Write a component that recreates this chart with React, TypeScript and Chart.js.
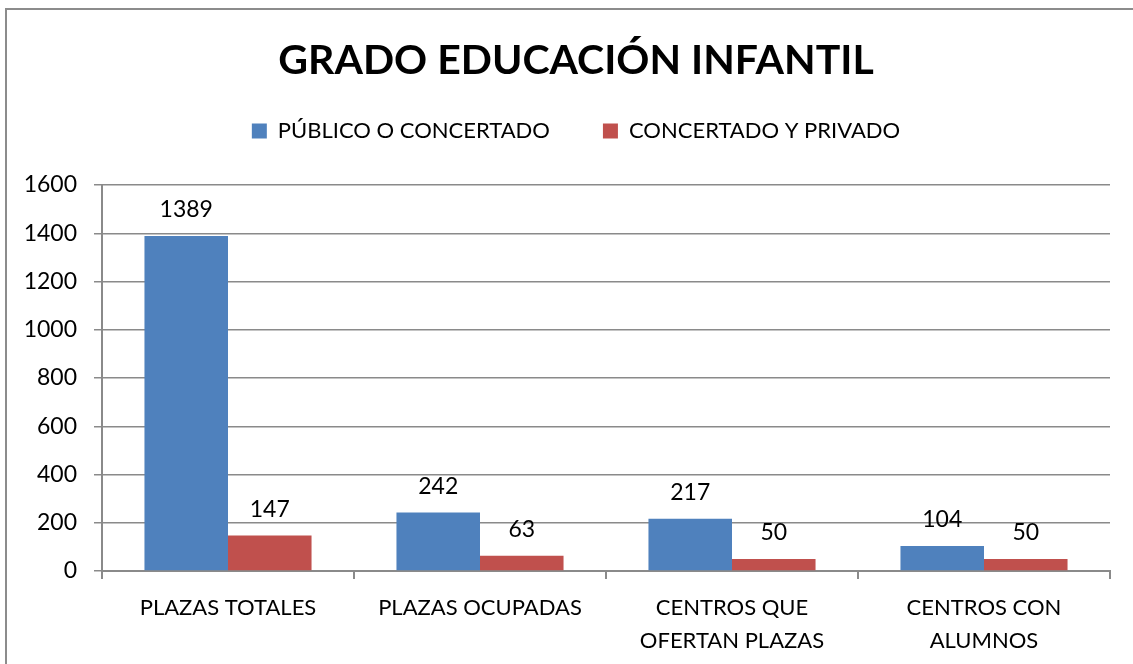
import React, { useEffect, useRef } from 'react';
import { Chart, registerables } from 'chart.js';

Chart.register(...registerables);

const titleText = 'GRADO EDUCACIÓN INFANTIL';
const categories: string[][] = [
  ['PLAZAS TOTALES'],
  ['PLAZAS OCUPADAS'],
  ['CENTROS QUE', 'OFERTAN PLAZAS'],
  ['CENTROS CON', 'ALUMNOS'],
];
const seriesNames = ['PÚBLICO O CONCERTADO', 'CONCERTADO Y PRIVADO'];
const publicoValues = [1389, 242, 217, 104];
const privadoValues = [147, 63, 50, 50];
const yMin = 0;
const yMax = 1600;
const yStep = 200;

const FONT = "Lato, 'Open Sans', sans-serif";
const GRID = '#8a8a8a';

const framePlugin = {
  id: 'frame',
  beforeDraw(chart: any) {
    const { ctx, width, height } = chart;
    ctx.save();
    ctx.fillStyle = '#ffffff';
    ctx.fillRect(0, 0, width, height);
    ctx.strokeStyle = '#8c8c8c';
    ctx.lineWidth = 2;
    ctx.strokeRect(6, 9, width + 20, height + 20);
    ctx.restore();
  },
};

// Shift the title and legend so that they are centred like the original picture
const headerShiftPlugin = {
  id: 'headerShift',
  afterLayout(chart: any) {
    const shift = 21;
    [chart.titleBlock, chart.legend].forEach((b: any) => {
      if (b) {
        b.left += shift;
        b.right += shift;
      }
    });
  },
};

const valueLabelPlugin = {
  id: 'valueLabels',
  afterDatasetsDraw(chart: any) {
    const { ctx } = chart;
    ctx.save();
    ctx.font = `23px ${FONT}`;
    ctx.fillStyle = '#000000';
    ctx.textAlign = 'center';
    ctx.textBaseline = 'middle';
    chart.data.datasets.forEach((ds: any, i: number) => {
      const meta = chart.getDatasetMeta(i);
      meta.data.forEach((el: any, j: number) => {
        const { x, y } = el.getProps(['x', 'y'], true);
        ctx.fillText(String(ds.data[j]), x, y - 26);
      });
    });
    ctx.restore();
  },
};

export default function App() {
  const ref = useRef<HTMLCanvasElement | null>(null);

  useEffect(() => {
    if (!ref.current) return;
    const chart = new Chart(ref.current, {
      type: 'bar',
      data: {
        labels: categories,
        datasets: [
          {
            label: seriesNames[0],
            data: publicoValues,
            backgroundColor: '#4F81BD',
            borderWidth: 0,
          },
          {
            label: seriesNames[1],
            data: privadoValues,
            backgroundColor: '#C0504D',
            borderWidth: 0,
          },
        ],
      },
      options: {
        responsive: false,
        animation: false,
        datasets: {
          bar: { categoryPercentage: 0.663, barPercentage: 1 },
        },
        layout: { padding: { left: 0, right: 23, top: 0, bottom: 0 } },
        plugins: {
          title: {
            display: true,
            text: titleText,
            color: '#000000',
            font: { family: FONT, size: 41, weight: 'bold', lineHeight: 0.2 },
            padding: { top: 56.4, bottom: 2.4 },
          },
          legend: {
            display: true,
            position: 'top',
            labels: {
              color: '#000000',
              font: { family: FONT, size: 22 },
              boxWidth: 15,
              boxHeight: 15,
              padding: 53,
            },
          },
          subtitle: {
            display: true,
            weight: 500,
            text: '',
            font: { size: 1, lineHeight: 1 },
            padding: { top: 0, bottom: 32 },
          },
          tooltip: { enabled: false },
        },
        scales: {
          x: {
            offset: true,
            grid: {
              display: true,
              offset: true,
              drawOnChartArea: false,
              drawTicks: true,
              tickLength: 8,
              color: GRID,
              lineWidth: 2,
            },
            border: { display: true, color: GRID, width: 2 },
            ticks: {
              color: '#000000',
              font: { family: FONT, size: 22, lineHeight: 1.5 },
              padding: 12,
              maxRotation: 0,
              autoSkip: false,
            },
            afterFit(scale: any) {
              scale.height = 93;
            },
          },
          y: {
            min: yMin,
            max: yMax,
            grid: {
              color: GRID,
              lineWidth: 1.5,
              drawTicks: true,
              tickLength: 8,
            },
            border: { display: true, color: GRID, width: 2 },
            ticks: {
              stepSize: yStep,
              color: '#000000',
              font: { family: FONT, size: 23 },
              padding: 17,
              callback: (value: any) => String(value),
            },
            afterFit(scale: any) {
              scale.width = 102;
            },
          },
        },
      },
      plugins: [framePlugin, headerShiftPlugin, valueLabelPlugin],
    });
    return () => chart.destroy();
  }, []);

  return (
    <div style={{ position: 'absolute', left: 0, top: 0, width: 1133, height: 664 }}>
      <canvas ref={ref} width={1133} height={664} style={{ display: 'block' }} />
    </div>
  );
}
